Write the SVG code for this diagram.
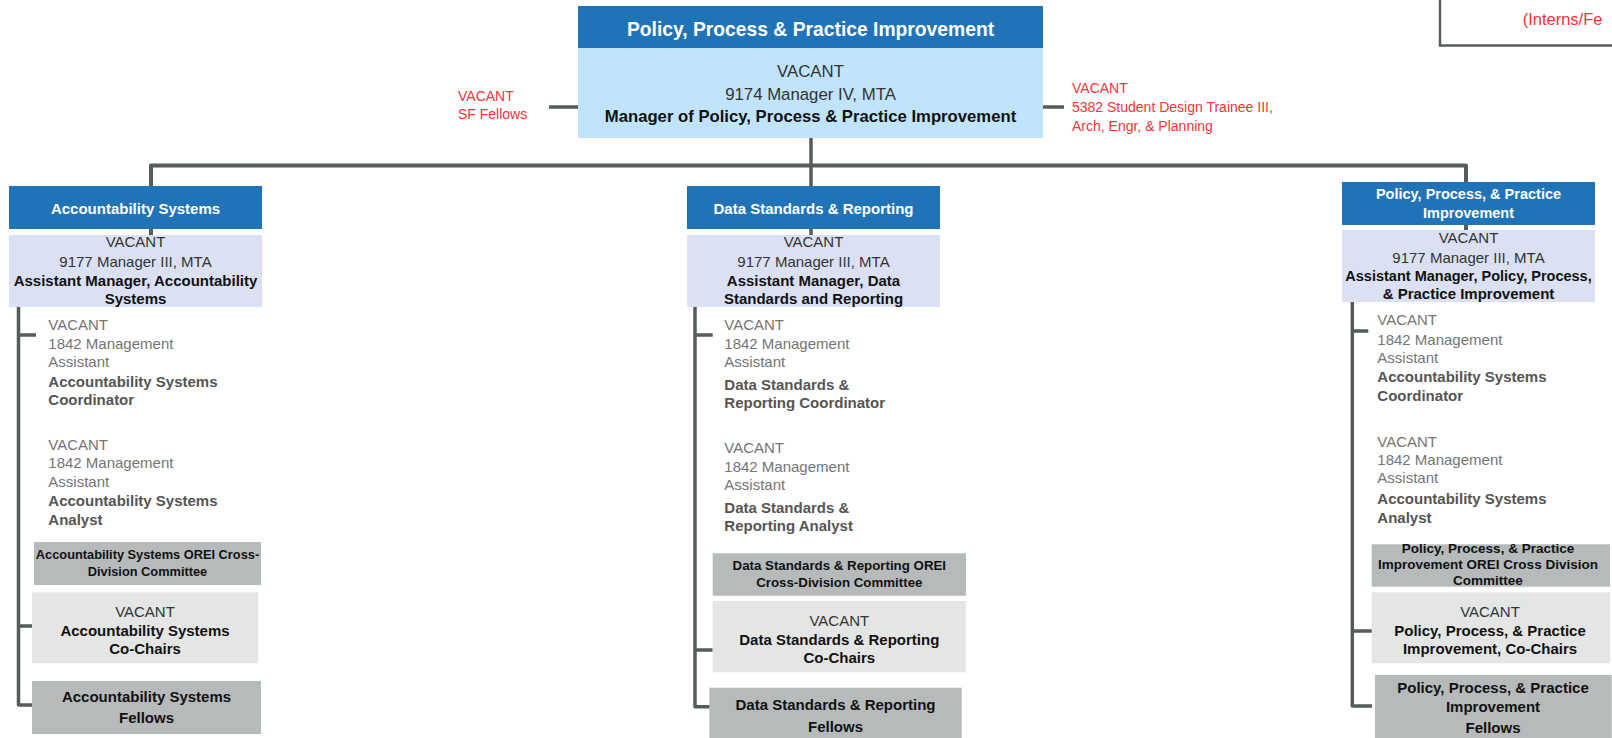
<svg xmlns="http://www.w3.org/2000/svg" width="1612" height="738" viewBox="0 0 1612 738">
<style>
text{font-family:"Liberation Sans",Arial,sans-serif}
.blue{fill:#2173B8}
.lb{fill:#BFE4FB}
.lav{fill:#DBE1F2}
.dg{fill:#B6BABB}
.lg{fill:#E4E5E5}
.ttl{fill:#fff;font-weight:bold;text-anchor:middle}
.c{text-anchor:middle}
.reg{fill:#333}
.bd{fill:#111;font-weight:bold}
.gr{fill:#747474;font-size:15px}
.gb{fill:#555;font-weight:bold;font-size:15px}
.red{fill:#F5333B;font-size:14px}
.cn{fill:none;stroke:#565B5C;stroke-width:3.5;stroke-linejoin:round}
.m15{font-size:15px}
</style>
<g id="connectors">
<path class="cn" d="M549 107H578M1043 107H1064M811 138V235"/>
<path class="cn" style="stroke-width:4" d="M151 235V165.5H1466V230"/>
<path class="cn" d="M18.5 307V705H32M18.5 335H36M18.5 626H32"/>
<path class="cn" d="M695 307V706.7H712.7M695 335H712.7M695 650H712.7"/>
<path class="cn" d="M1352.3 302V706H1372M1352.3 331H1368.3M1352.3 631H1372"/>
</g>
<g id="top-manager">
<rect class="blue" x="578" y="6" width="465" height="42"/>
<rect class="lb" x="578" y="48" width="465" height="90"/>
<text class="ttl" x="810.5" y="35.7" font-size="19.3">Policy, Process &amp; Practice Improvement</text>
<text class="c reg" x="810.5" y="77.3" font-size="16.8">VACANT</text>
<text class="c reg" x="810.5" y="100" font-size="16.8">9174 Manager IV, MTA</text>
<text class="c bd" x="810.5" y="122.3" font-size="16.7">Manager of Policy, Process &amp; Practice Improvement</text>
</g>
<g id="sf-fellows">
<text class="red" x="458" y="100.7">VACANT</text>
<text class="red" x="458" y="119.3">SF Fellows</text>
</g>
<g id="student-trainee">
<text class="red" x="1072" y="92.7" font-size="14.6">VACANT</text>
<text class="red" x="1072" y="112" font-size="14.6">5382 Student Design Trainee III,</text>
<text class="red" x="1072" y="130.7" font-size="14.6">Arch, Engr, &amp; Planning</text>
</g>
<g id="interns-box">
<rect x="1440" y="-20" width="200" height="65.5" fill="#fff" stroke="#565B5C" stroke-width="2.5"/>
<text x="1522.7" y="25" fill="#F5333B" font-size="16.5">(Interns/Fe</text>
</g>
<g id="acc-title">
<rect class="blue" x="9" y="186" width="253" height="43"/>
<text class="ttl m15" x="135.5" y="214">Accountability Systems</text>
</g>
<g id="acc-manager">
<rect class="lav" x="9" y="235" width="253" height="72"/>
<text class="c reg m15" x="135.5" y="247.3">VACANT</text>
<text class="c reg m15" x="135.5" y="266.7">9177 Manager III, MTA</text>
<text class="c bd m15" x="135.5" y="285.7">Assistant Manager, Accountability</text>
<text class="c bd m15" x="135.5" y="304">Systems</text>
</g>
<g id="acc-coordinator">
<text class="gr" x="48.3" y="330">VACANT</text>
<text class="gr" x="48.3" y="349">1842 Management</text>
<text class="gr" x="48.3" y="367.3">Assistant</text>
<text class="gb" x="48.3" y="386.7">Accountability Systems</text>
<text class="gb" x="48.3" y="405">Coordinator</text>
</g>
<g id="acc-analyst">
<text class="gr" x="48.3" y="450">VACANT</text>
<text class="gr" x="48.3" y="467.7">1842 Management</text>
<text class="gr" x="48.3" y="486.5">Assistant</text>
<text class="gb" x="48.3" y="506">Accountability Systems</text>
<text class="gb" x="48.3" y="525">Analyst</text>
</g>
<g id="acc-committee">
<rect class="dg" x="34" y="542" width="227" height="43"/>
<text class="c bd" x="147.5" y="559.3" font-size="12.8">Accountability Systems OREI Cross-</text>
<text class="c bd" x="147.5" y="576" font-size="12.8">Division Committee</text>
</g>
<g id="acc-cochairs">
<rect class="lg" x="32" y="592.3" width="226" height="71"/>
<text class="c reg m15" x="145" y="616.7">VACANT</text>
<text class="c bd m15" x="145" y="636">Accountability Systems</text>
<text class="c bd m15" x="145" y="654">Co-Chairs</text>
</g>
<g id="acc-fellows">
<rect class="dg" x="32" y="681" width="229" height="53"/>
<text class="c bd m15" x="146.5" y="701.7">Accountability Systems</text>
<text class="c bd m15" x="146.5" y="723.3">Fellows</text>
</g>
<g id="dsr-title">
<rect class="blue" x="687" y="186" width="253" height="43"/>
<text class="ttl m15" x="813.5" y="214">Data Standards &amp; Reporting</text>
</g>
<g id="dsr-manager">
<rect class="lav" x="687" y="235" width="253" height="72"/>
<text class="c reg m15" x="813.5" y="247.3">VACANT</text>
<text class="c reg m15" x="813.5" y="266.7">9177 Manager III, MTA</text>
<text class="c bd m15" x="813.5" y="285.7">Assistant Manager, Data</text>
<text class="c bd m15" x="813.5" y="304">Standards and Reporting</text>
</g>
<g id="dsr-coordinator">
<text class="gr" x="724.3" y="330">VACANT</text>
<text class="gr" x="724.3" y="349">1842 Management</text>
<text class="gr" x="724.3" y="367.3">Assistant</text>
<text class="gb" x="724.3" y="390">Data Standards &amp;</text>
<text class="gb" x="724.3" y="408.3">Reporting Coordinator</text>
</g>
<g id="dsr-analyst">
<text class="gr" x="724.3" y="453.3">VACANT</text>
<text class="gr" x="724.3" y="471.7">1842 Management</text>
<text class="gr" x="724.3" y="490">Assistant</text>
<text class="gb" x="724.3" y="512.7">Data Standards &amp;</text>
<text class="gb" x="724.3" y="531">Reporting Analyst</text>
</g>
<g id="dsr-committee">
<rect class="dg" x="712.7" y="553.3" width="253.3" height="42.4"/>
<text class="c bd" x="839.3" y="570" font-size="13.3">Data Standards &amp; Reporting OREI</text>
<text class="c bd" x="839.3" y="587.3" font-size="13.3">Cross-Division Committee</text>
</g>
<g id="dsr-cochairs">
<rect class="lg" x="712.7" y="601" width="253.3" height="71.3"/>
<text class="c reg m15" x="839.3" y="626">VACANT</text>
<text class="c bd m15" x="839.3" y="645">Data Standards &amp; Reporting</text>
<text class="c bd m15" x="839.3" y="663.3">Co-Chairs</text>
</g>
<g id="dsr-fellows">
<rect class="dg" x="709.3" y="687.7" width="252.4" height="55"/>
<text class="c bd m15" x="835.5" y="710">Data Standards &amp; Reporting</text>
<text class="c bd m15" x="835.5" y="731.7">Fellows</text>
</g>
<g id="ppp-title">
<rect class="blue" x="1342" y="182" width="253" height="43"/>
<text class="ttl" x="1468.5" y="199.3" font-size="14.5">Policy, Process, &amp; Practice</text>
<text class="ttl" x="1468.5" y="218.3" font-size="14.5">Improvement</text>
</g>
<g id="ppp-manager">
<rect class="lav" x="1342" y="230" width="253" height="72"/>
<text class="c reg m15" x="1468.5" y="242.7">VACANT</text>
<text class="c reg m15" x="1468.5" y="262.7">9177 Manager III, MTA</text>
<text class="c bd" x="1468.5" y="280.7" font-size="14.5">Assistant Manager, Policy, Process,</text>
<text class="c bd m15" x="1468.5" y="299">&amp; Practice Improvement</text>
</g>
<g id="ppp-coordinator">
<text class="gr" x="1377.3" y="325">VACANT</text>
<text class="gr" x="1377.3" y="345">1842 Management</text>
<text class="gr" x="1377.3" y="363.3">Assistant</text>
<text class="gb" x="1377.3" y="382.3">Accountability Systems</text>
<text class="gb" x="1377.3" y="400.7">Coordinator</text>
</g>
<g id="ppp-analyst">
<text class="gr" x="1377.3" y="446.7">VACANT</text>
<text class="gr" x="1377.3" y="465">1842 Management</text>
<text class="gr" x="1377.3" y="483.3">Assistant</text>
<text class="gb" x="1377.3" y="504">Accountability Systems</text>
<text class="gb" x="1377.3" y="522.7">Analyst</text>
</g>
<g id="ppp-committee">
<rect class="dg" x="1371.7" y="544.3" width="238.3" height="42.4"/>
<text class="c bd" x="1488" y="553.3" font-size="13.5">Policy, Process, &amp; Practice</text>
<text class="c bd" x="1488" y="569.3" font-size="13.5">Improvement OREI Cross Division</text>
<text class="c bd" x="1488" y="585" font-size="13.5">Committee</text>
</g>
<g id="ppp-cochairs">
<rect class="lg" x="1371.7" y="592.3" width="238.3" height="71"/>
<text class="c reg m15" x="1490" y="616.7">VACANT</text>
<text class="c bd m15" x="1490" y="636">Policy, Process, &amp; Practice</text>
<text class="c bd m15" x="1490" y="654">Improvement, Co-Chairs</text>
</g>
<g id="ppp-fellows">
<rect class="dg" x="1375" y="675" width="236.7" height="70"/>
<text class="c bd m15" x="1493" y="693.3">Policy, Process, &amp; Practice</text>
<text class="c bd m15" x="1493" y="711.7">Improvement</text>
<text class="c bd m15" x="1493" y="733.3">Fellows</text>
</g>
</svg>
